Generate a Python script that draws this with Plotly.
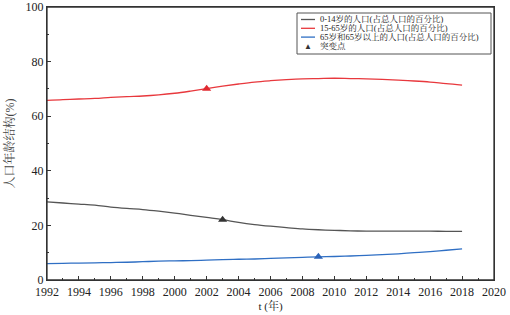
import plotly.graph_objects as go

years = list(range(1992, 2019))
age_0_14 = [28.6, 28.2, 27.8, 27.4, 26.7, 26.2, 25.8, 25.2, 24.5, 23.7, 22.9, 22.1,
            21.1, 20.3, 19.7, 19.2, 18.7, 18.4, 18.2, 18.0, 17.9, 17.9, 17.9, 17.9,
            17.9, 17.8, 17.8]
age_15_65 = [65.8, 66.1, 66.3, 66.5, 66.9, 67.2, 67.4, 67.8, 68.4, 69.2, 70.1, 71.0,
             71.8, 72.5, 73.0, 73.4, 73.7, 73.8, 73.9, 73.8, 73.7, 73.5, 73.2, 72.9,
             72.5, 71.9, 71.4]
age_65_up = [6.0, 6.1, 6.2, 6.3, 6.4, 6.5, 6.7, 6.9, 7.0, 7.1, 7.3, 7.5, 7.6, 7.7,
             7.9, 8.1, 8.3, 8.5, 8.6, 8.8, 9.0, 9.3, 9.6, 10.0, 10.4, 10.9, 11.4]

names = ["0-14岁的人口(占总人口的百分比)", "15-65岁的人口(占总人口的百分比)",
         "65岁和65岁以上的人口(占总人口的百分比)"]
colors = ["#555555", "#e8383d", "#2f6fc4"]
marker_colors = ["#333333", "#e02a30", "#2a62b8"]
change_years = [2003, 2002, 2009]
change_label = "突变点"

FONT = "Liberation Serif, Times New Roman, Noto Serif CJK SC, Noto Sans CJK SC, serif"

W, H = 510, 315
L, R, T, B = 47, 16, 7, 35
PW, PH = W - L - R, H - T - B


def px(x):
    return (x - L) / PW


def py(y):
    return (H - B - y) / PH


fig = go.Figure()
series = [age_0_14, age_15_65, age_65_up]
for s, n, c in zip(series, names, colors):
    fig.add_trace(go.Scatter(x=years, y=s, mode="lines", name=n, showlegend=False,
                             line=dict(color=c, width=1.3, shape="spline")))
for i, (s, cy, mc) in enumerate(zip(series, change_years, marker_colors)):
    fig.add_trace(go.Scatter(x=[cy], y=[s[years.index(cy)]], mode="markers",
                             name=change_label, showlegend=False,
                             marker=dict(symbol="triangle-up", size=8, color=mc)))

axis_common = dict(showline=True, linecolor="#333333", linewidth=1.3, mirror=True,
                   ticks="inside", ticklen=4, tickcolor="#333333", showgrid=False,
                   zeroline=False, automargin=False,
                   tickfont=dict(family=FONT, size=12, color="#222"))
fig.update_xaxes(range=[1992, 2020], dtick=2, tick0=1992,
                 minor=dict(ticks="inside", ticklen=2, dtick=1, tickcolor="#333333"),
                 title=dict(text="t (年)", font=dict(family=FONT, size=11, color="#222"),
                            standoff=2),
                 **axis_common)
fig.update_yaxes(range=[0, 100], dtick=20,
                 minor=dict(ticks="inside", ticklen=2, dtick=10, tickcolor="#333333"),
                 title=dict(text="人口年龄结构(%)", font=dict(family=FONT, size=12, color="#444"),
                            standoff=8),
                 **axis_common)

shapes = [dict(type="rect", xref="paper", yref="paper", x0=0, x1=1, y0=0, y1=1,
               line=dict(color="#333333", width=1.3), fillcolor="rgba(0,0,0,0)"),
          dict(type="rect", xref="paper", yref="paper", x0=px(297), x1=px(491),
               y0=py(54), y1=py(13), line=dict(color="#555555", width=1),
               fillcolor="white", layer="above")]
annotations = []
row_y = [19.5, 28.3, 37.1, 45.9]
for ry, n, c in zip(row_y[:3], names, colors):
    shapes.append(dict(type="line", xref="paper", yref="paper", x0=px(301), x1=px(315),
                       y0=py(ry), y1=py(ry), line=dict(color=c, width=1.3)))
    annotations.append(dict(text=n, xref="paper", yref="paper", x=px(318), y=py(ry),
                            xanchor="left", yanchor="middle", showarrow=False,
                            font=dict(family=FONT, size=8.5, color="#222")))
annotations.append(dict(text="▲", xref="paper", yref="paper", x=px(308), y=py(row_y[3]),
                        xanchor="center", yanchor="middle", showarrow=False,
                        font=dict(size=8, color="#333333")))
annotations.append(dict(text=change_label, xref="paper", yref="paper", x=px(318),
                        y=py(row_y[3]), xanchor="left", yanchor="middle", showarrow=False,
                        font=dict(family=FONT, size=8.5, color="#222")))

fig.update_layout(
    width=W, height=H,
    margin=dict(l=L, r=R, t=T, b=B),
    paper_bgcolor="white", plot_bgcolor="white",
    showlegend=False,
    shapes=shapes, annotations=annotations,
)

fig.write_html("out.html", config={"displayModeBar": False},
               post_script="document.body.style.margin='0';document.body.style.overflow='hidden';")
